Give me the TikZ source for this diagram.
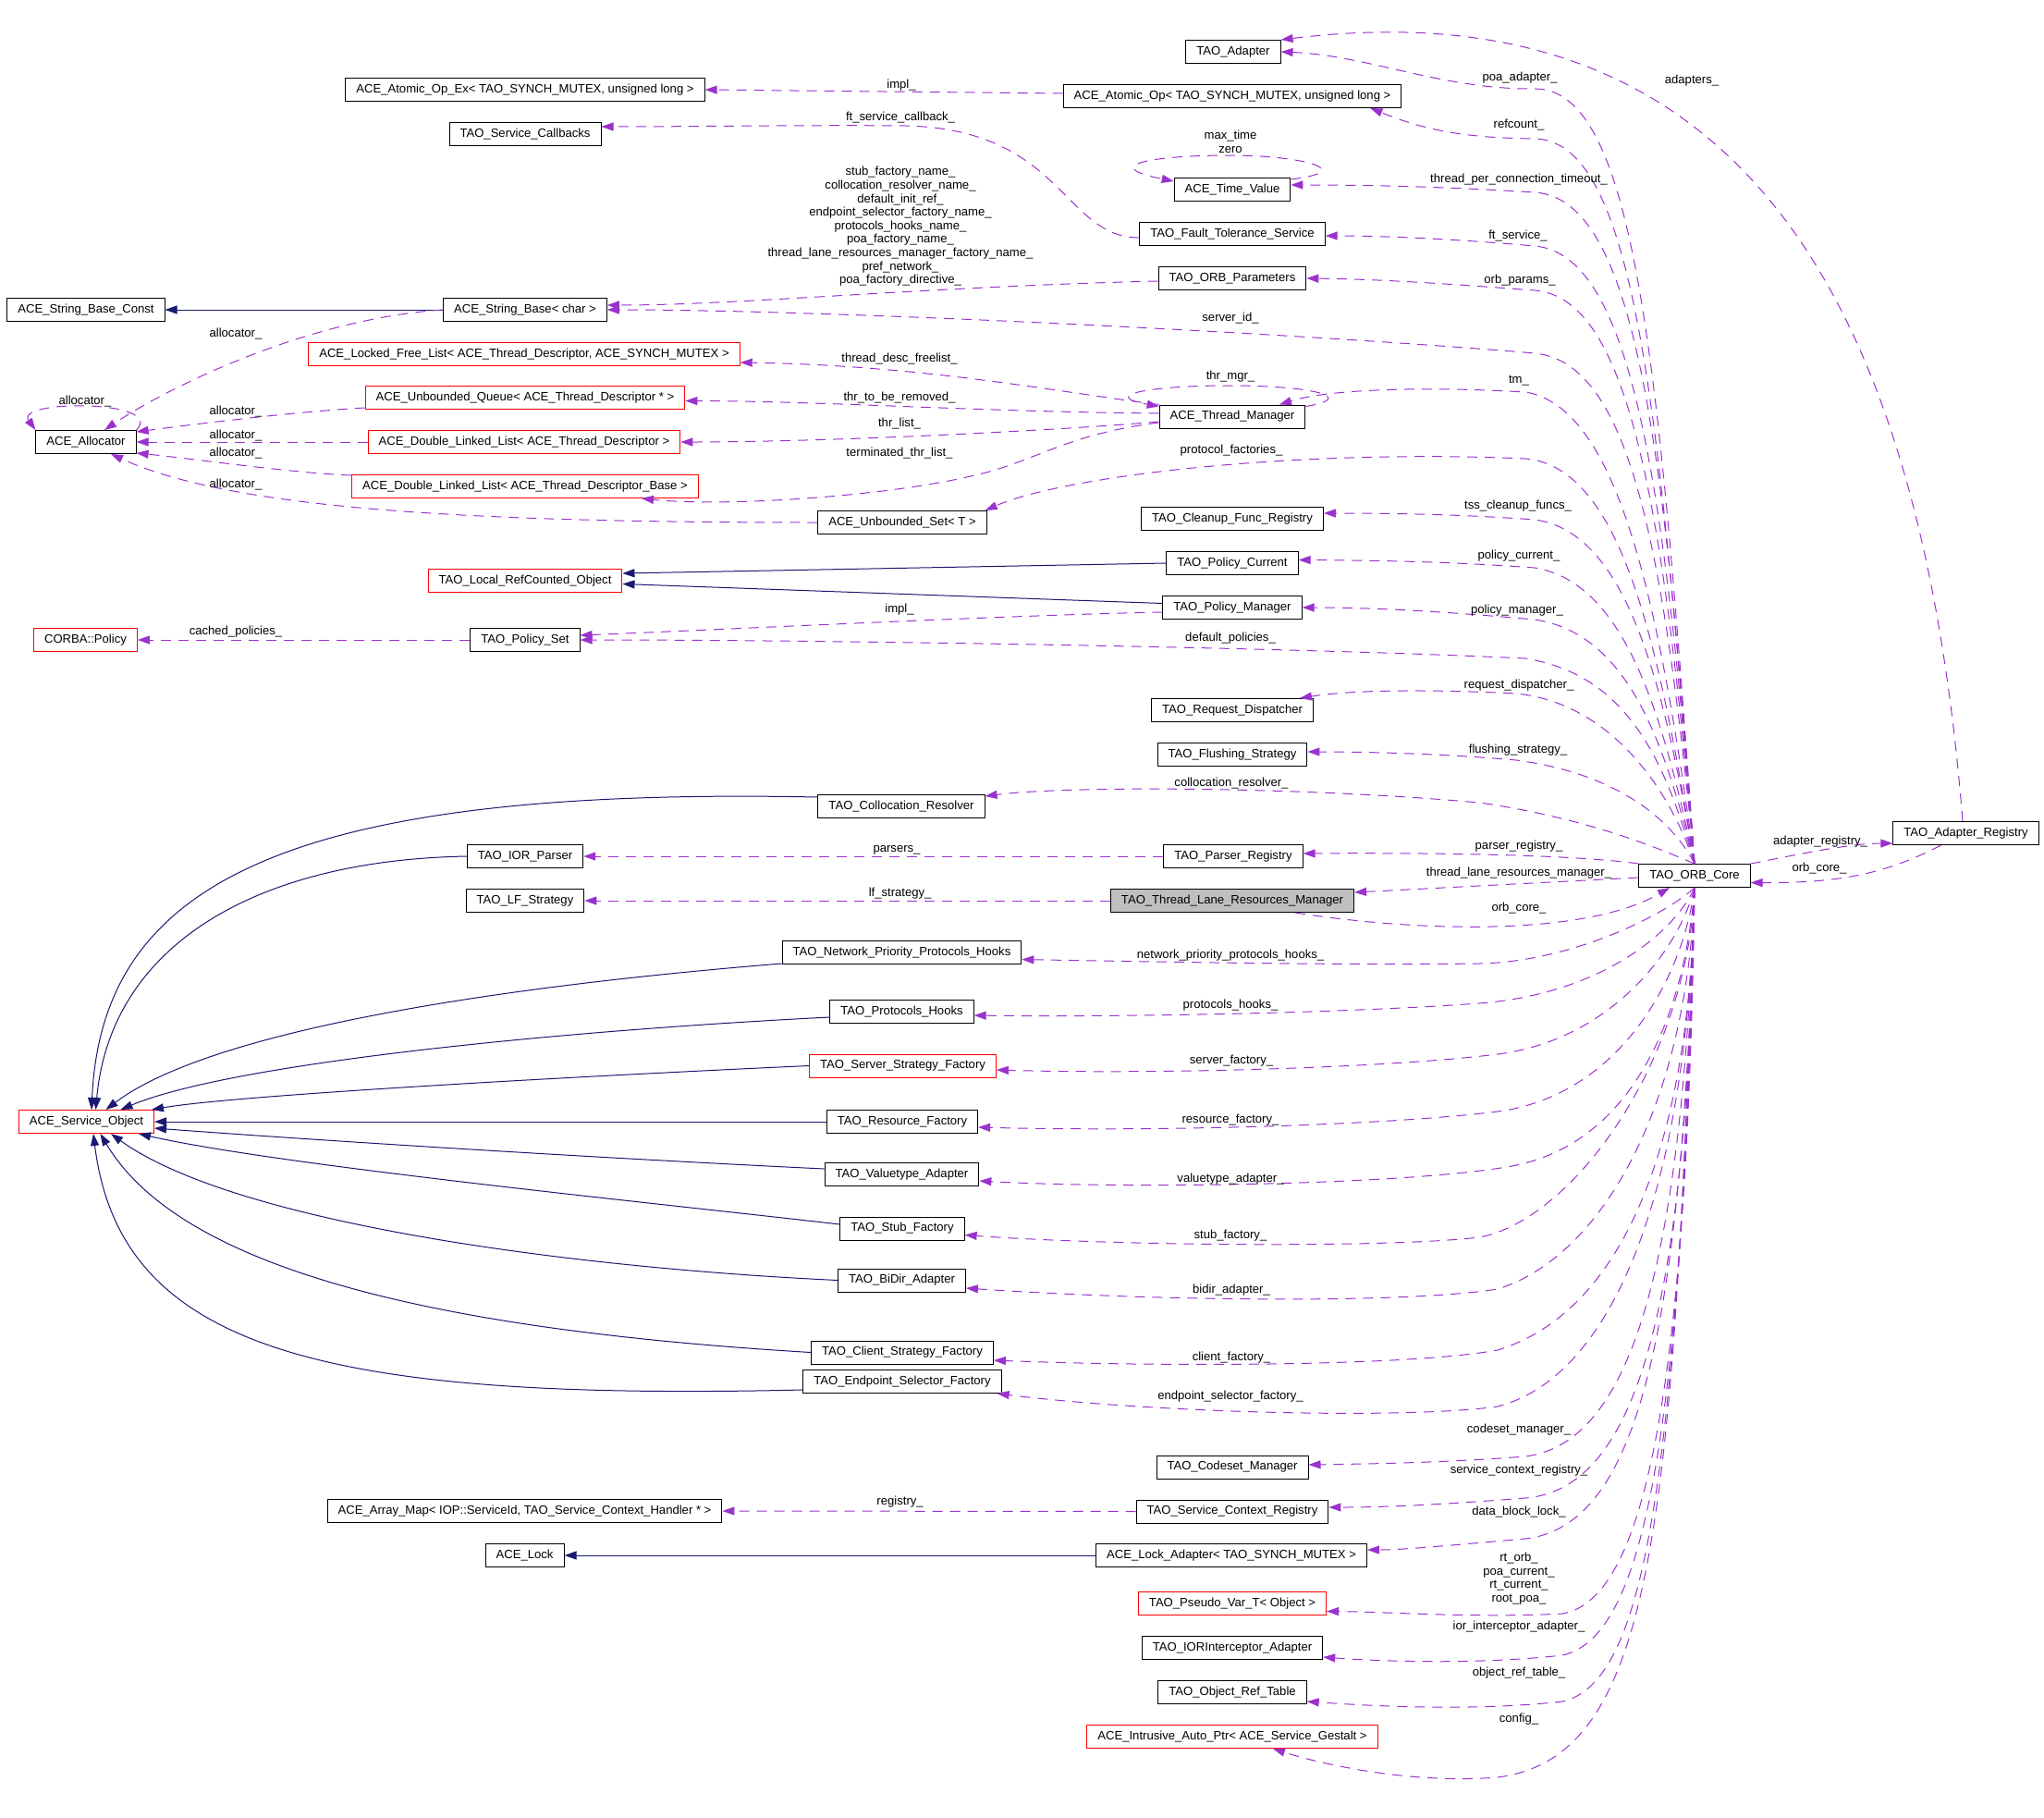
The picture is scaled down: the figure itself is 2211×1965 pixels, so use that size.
\documentclass[tikz,border=0pt]{standalone}
\usepackage{fontspec}
\setmainfont{Liberation Sans}
\usetikzlibrary{arrows.meta}
\definecolor{depline}{HTML}{9A32CD}
\definecolor{inhline}{HTML}{191970}
\definecolor{focusgray}{HTML}{BFBFBF}

\begin{document}
\begin{tikzpicture}[
        x=1pt, y=-1pt,
        box/.style={rectangle, draw=#1, line width=1pt, fill=white, inner xsep=11.5pt, inner ysep=0pt,
            minimum height=25pt, font=\fontsize{13.1}{14.6}\selectfont},
        box/.default=black,
        lbl/.style={inner sep=0pt, align=center, font=\fontsize{13.1}{14.6}\selectfont},
        dep/.style={draw=depline, line width=1pt, dash pattern=on 11pt off 8pt, -{Triangle[length=13pt,width=9pt]}},
        inh/.style={draw=inhline, line width=1pt, -{Triangle[length=13pt,width=9pt]}}
    ]
        \useasboundingbox (0,0) rectangle (2211,1965);

        % classes, left column
        \node[box] (sbc) at (93,335) {ACE\_String\_Base\_Const};
        \node[box] (alloc) at (93,478) {ACE\_Allocator};
        \node[box=red] (cp) at (92.5,692) {CORBA::Policy};
        \node[box=red] (aso) at (93.5,1213) {ACE\_Service\_Object};

        % classes, middle column
        \node[box] (atomicex) at (568,97) {ACE\_Atomic\_Op\_Ex< TAO\_SYNCH\_MUTEX, unsigned long >};
        \node[box] (svccb) at (568,145) {TAO\_Service\_Callbacks};
        \node[box] (sb) at (568,335) {ACE\_String\_Base< char >};
        \node[box=red] (lfl) at (567,383) {ACE\_Locked\_Free\_List< ACE\_Thread\_Descriptor, ACE\_SYNCH\_MUTEX >};
        \node[box=red] (uq) at (568,430) {ACE\_Unbounded\_Queue< ACE\_Thread\_Descriptor * >};
        \node[box=red] (dll) at (567,478) {ACE\_Double\_Linked\_List< ACE\_Thread\_Descriptor >};
        \node[box=red] (dllb) at (568,526) {ACE\_Double\_Linked\_List< ACE\_Thread\_Descriptor\_Base >};
        \node[box=red] (lrc) at (568,628) {TAO\_Local\_RefCounted\_Object};
        \node[box] (ps) at (568,692) {TAO\_Policy\_Set};
        \node[box] (ior) at (568,926) {TAO\_IOR\_Parser};
        \node[box] (lf) at (568,974) {TAO\_LF\_Strategy};
        \node[box] (am) at (567.5,1634) {ACE\_Array\_Map< IOP::ServiceId, TAO\_Service\_Context\_Handler * >};
        \node[box] (lock) at (567.6,1682) {ACE\_Lock};

        \node[box] (us) at (976,565) {ACE\_Unbounded\_Set< T >};
        \node[box] (cr) at (975,872) {TAO\_Collocation\_Resolver};
        \node[box] (npph) at (975.5,1030) {TAO\_Network\_Priority\_Protocols\_Hooks};
        \node[box] (ph) at (975.5,1094) {TAO\_Protocols\_Hooks};
        \node[box=red] (ssf) at (976.5,1152.5) {TAO\_Server\_Strategy\_Factory};
        \node[box] (rf) at (976,1213) {TAO\_Resource\_Factory};
        \node[box] (va) at (975.5,1270) {TAO\_Valuetype\_Adapter};
        \node[box] (sf) at (976,1328.5) {TAO\_Stub\_Factory};
        \node[box] (ba) at (975.5,1384.5) {TAO\_BiDir\_Adapter};
        \node[box] (csf) at (976,1462.5) {TAO\_Client\_Strategy\_Factory};
        \node[box] (esf) at (976,1494) {TAO\_Endpoint\_Selector\_Factory};

        % classes, right column
        \node[box] (adapter) at (1334,56) {TAO\_Adapter};
        \node[box] (atomic) at (1333,104) {ACE\_Atomic\_Op< TAO\_SYNCH\_MUTEX, unsigned long >};
        \node[box] (tv) at (1333,205) {ACE\_Time\_Value};
        \node[box] (ft) at (1333,253) {TAO\_Fault\_Tolerance\_Service};
        \node[box] (orbp) at (1333,301) {TAO\_ORB\_Parameters};
        \node[box] (tm) at (1333,450.5) {ACE\_Thread\_Manager};
        \node[box] (cfr) at (1333,561) {TAO\_Cleanup\_Func\_Registry};
        \node[box] (pc) at (1333,609) {TAO\_Policy\_Current};
        \node[box] (pm) at (1333,657) {TAO\_Policy\_Manager};
        \node[box] (rd) at (1333,768) {TAO\_Request\_Dispatcher};
        \node[box] (fs) at (1333,816) {TAO\_Flushing\_Strategy};
        \node[box] (pr) at (1334,926) {TAO\_Parser\_Registry};
        \node[box, fill=focusgray] (tlrm) at (1333,974) {TAO\_Thread\_Lane\_Resources\_Manager};
        \node[box] (cm) at (1333,1586.5) {TAO\_Codeset\_Manager};
        \node[box] (scr) at (1333,1634.5) {TAO\_Service\_Context\_Registry};
        \node[box] (la) at (1332,1682) {ACE\_Lock\_Adapter< TAO\_SYNCH\_MUTEX >};
        \node[box=red] (pv) at (1333,1734) {TAO\_Pseudo\_Var\_T< Object >};
        \node[box] (ia) at (1333,1782) {TAO\_IORInterceptor\_Adapter};
        \node[box] (ort) at (1333,1830) {TAO\_Object\_Ref\_Table};
        \node[box=red] (iap) at (1333,1878) {ACE\_Intrusive\_Auto\_Ptr< ACE\_Service\_Gestalt >};

        \node[box] (orb) at (1833,947) {TAO\_ORB\_Core};
        \node[box] (ar) at (2126.5,901) {TAO\_Adapter\_Registry};

        % inheritance
        \draw[inh] (sb.west) -- (sbc.east);
        \draw[inh] (pc.west) -- ([yshift=8pt]lrc.east);
        \draw[inh] ([yshift=4.5pt]pm.west) -- ([yshift=-3.5pt]lrc.east);
        \draw[inh] (la.west) -- (lock.east);
        \draw[inh] ([yshift=10pt]cr.west) .. controls (300,850) and (110,960) .. ([xshift=5.5pt]aso.north);
        \draw[inh] (ior.west) .. controls (280,930) and (120,1020) .. ([xshift=10pt]aso.north);
        \draw[inh] ([yshift=-12pt]npph.west) .. controls (500,1070) and (220,1120) .. ([xshift=21pt]aso.north);
        \draw[inh] ([yshift=-6pt]ph.west) .. controls (600,1115) and (250,1150) .. ([xshift=37pt]aso.north);
        \draw[inh] (ssf.west) .. controls (600,1165) and (250,1185) .. ([xshift=-3pt]aso.north east);
        \draw[inh] (rf.west) -- (aso.east);
        \draw[inh] ([yshift=6pt]va.west) .. controls (600,1250) and (300,1230) .. ([yshift=-7pt]aso.east);
        \draw[inh] ([yshift=4.5pt]sf.west) .. controls (700,1300) and (300,1260) .. ([xshift=-17pt]aso.south east);
        \draw[inh] (ba.west) .. controls (600,1370) and (250,1320) .. ([xshift=26.5pt]aso.south);
        \draw[inh] (csf.west) .. controls (500,1440) and (200,1380) .. ([xshift=15pt]aso.south);
        \draw[inh] ([yshift=-9pt]esf.west) .. controls (350,1515) and (130,1460) .. ([xshift=7.5pt]aso.south);

        % members, left part
        \draw[dep] ([yshift=3pt]atomic.west) -- (atomicex.east);
        \node[lbl] (l_impl) at (975,92) {impl\_};
        \draw[dep] ([yshift=-4pt]ft.west) .. controls (1150,257) and (1150,140) .. (980,136)
            .. controls (880,135) and (750,137) .. ([yshift=8pt]svccb.east);
        \node[lbl] (l_ftcb) at (974,127) {ft\_service\_callback\_};
        \draw[dep] ([yshift=-3pt]orbp.west) .. controls (1000,310) and (800,330) .. ([yshift=5pt]sb.east);
        \node[lbl] (l_names) at (974,245) {stub\_factory\_name\_\\collocation\_resolver\_name\_\\default\_init\_ref\_\\
            endpoint\_selector\_factory\_name\_\\protocols\_hooks\_name\_\\poa\_factory\_name\_\\
            thread\_lane\_resources\_manager\_factory\_name\_\\pref\_network\_\\poa\_factory\_directive\_};
        \draw[dep] ([yshift=-2pt]tv.north east) .. controls (1470,185) and (1410,168) .. (1330,168)
            .. controls (1240,168) and (1190,180) .. ([yshift=-4pt]tv.north west);
        \node[lbl] (l_tv) at (1331,153.6) {max\_time\\zero};
        \draw[dep] (tm.north west) .. controls (1150,425) and (1000,395) .. ([yshift=-9pt]lfl.east);
        \node[lbl] (l_fl) at (973,388) {thread\_desc\_freelist\_};
        \draw[dep] ([yshift=-2pt]tm.north east) .. controls (1470,430) and (1420,417) .. (1330,417)
            .. controls (1240,417) and (1190,428) .. ([yshift=-2pt]tm.north west);
        \node[lbl] (l_thrmgr) at (1331,406.7) {thr\_mgr\_};
        \draw[dep] ([yshift=3.5pt]tm.west) .. controls (1050,445) and (900,434) .. ([yshift=-3.5pt]uq.east);
        \node[lbl] (l_rem) at (973,430) {thr\_to\_be\_removed\_};
        \draw[dep] ([yshift=-5.5pt]tm.west) .. controls (1150,465) and (900,478) .. (dll.east);
        \node[lbl] (l_thrl) at (973,458.5) {thr\_list\_};
        \draw[dep] ([yshift=-6.5pt]tm.west) .. controls (1150,470) and (1120,500) .. (1050,515)
            .. controls (950,538) and (780,548) .. ([xshift=126pt]dllb.south);
        \node[lbl] (l_term) at (973,490.5) {terminated\_thr\_list\_};

        \draw[dep] (sb.west) .. controls (330,345) and (180,420) .. ([xshift=20pt]alloc.north);
        \node[lbl] (l_al1) at (255,361) {allocator\_};
        \draw[dep] (alloc.north east) .. controls (180,432) and (15,432) .. (alloc.north west);
        \node[lbl] (l_al2) at (92,434.5) {allocator\_};
        \draw[dep] ([yshift=-11pt]uq.west) .. controls (320,445) and (200,460) .. ([yshift=-2pt]alloc.north east);
        \node[lbl] (l_al3) at (255,444.6) {allocator\_};
        \draw[dep] (dll.west) -- (alloc.east);
        \node[lbl] (l_al4) at (255,470.7) {allocator\_};
        \draw[dep] ([yshift=12pt]dllb.west) .. controls (320,512) and (200,495) .. ([yshift=1pt]alloc.south east);
        \node[lbl] (l_al5) at (255,490.5) {allocator\_};
        \draw[dep] (us.west) .. controls (500,565) and (250,550) .. ([xshift=27pt]alloc.south);
        \node[lbl] (l_al6) at (255,523.7) {allocator\_};

        \draw[dep] ([yshift=-5pt]pm.west) .. controls (1100,665) and (800,680) .. ([yshift=5pt]ps.east);
        \node[lbl] (l_impl2) at (973,659) {impl\_};
        \draw[dep] (ps.west) -- (cp.east);
        \node[lbl] (l_cached) at (255,683.6) {cached\_policies\_};
        \draw[dep] (pr.west) -- (ior.east);
        \node[lbl] (l_parsers) at (970,919) {parsers\_};
        \draw[dep] (tlrm.west) -- (lf.east);
        \node[lbl] (l_lf) at (973.6,966.5) {lf\_strategy\_};
        \draw[dep] (scr.west) -- (am.east);
        \node[lbl] (l_reg) at (973.6,1624) {registry\_};

        % members of TAO_ORB_Core, upwards
        \draw[dep] ([xshift=-3.5pt]ar.north) .. controls (2080,350) and (1900,-20) .. (adapter.north east);
        \node[lbl] (l_adapters) at (1830,87.6) {adapters\_};
        \draw[dep] (orb.north) .. controls (1795,400) and (1770,95) .. (1660,96)
            .. controls (1560,97) and (1480,60) .. (adapter.east);
        \node[lbl] (l_poa) at (1644,84.6) {poa\_adapter\_};
        \draw[dep] (orb.north) .. controls (1795,450) and (1770,152) .. (1660,150)
            .. controls (1580,149) and (1540,140) .. ([xshift=-34pt]atomic.south east);
        \node[lbl] (l_ref) at (1643,134.7) {refcount\_};
        \draw[dep] (orb.north) .. controls (1800,480) and (1770,215) .. (1660,208)
            .. controls (1580,203) and (1500,200) .. ([yshift=5pt]tv.east);
        \node[lbl] (l_tpct) at (1643,194.5) {thread\_per\_connection\_timeout\_};
        \draw[dep] (orb.north) .. controls (1800,520) and (1765,275) .. (1660,266)
            .. controls (1580,259) and (1500,255) .. ([yshift=-2pt]ft.east);
        \node[lbl] (l_ft) at (1642,254.7) {ft\_service\_};
        \draw[dep] (orb.north) .. controls (1800,560) and (1765,322) .. (1660,314)
            .. controls (1580,308) and (1500,302) .. (orbp.east);
        \node[lbl] (l_orbp) at (1644,302.7) {orb\_params\_};
        \draw[dep] (orb.north) .. controls (1800,600) and (1765,392) .. (1660,382)
            .. controls (1400,360) and (900,335) .. (sb.east);
        \node[lbl] (l_sid) at (1331,344.4) {server\_id\_};
        \draw[dep] (orb.north) .. controls (1795,650) and (1750,440) .. (1650,424)
            .. controls (1550,418) and (1440,420) .. ([xshift=51pt]tm.north);
        \node[lbl] (l_tm) at (1643,411.7) {tm\_};
        \draw[dep] (orb.north) .. controls (1795,700) and (1755,505) .. (1650,496)
            .. controls (1400,485) and (1150,515) .. ([xshift=-2pt]us.north east);
        \node[lbl] (l_pf) at (1332,486.7) {protocol\_factories\_};
        \draw[dep] (orb.north) .. controls (1800,740) and (1760,575) .. (1660,562)
            .. controls (1580,556) and (1500,555) .. ([yshift=6pt]cfr.east);
        \node[lbl] (l_tss) at (1642,547) {tss\_cleanup\_funcs\_};
        \draw[dep] (orb.north) .. controls (1800,780) and (1760,630) .. (1660,614)
            .. controls (1580,608) and (1500,606) .. ([yshift=3.5pt]pc.east);
        \node[lbl] (l_pc) at (1643,600.8) {policy\_current\_};
        \draw[dep] (orb.north) .. controls (1800,800) and (1760,685) .. (1660,670)
            .. controls (1580,663) and (1500,657) .. (pm.east);
        \node[lbl] (l_pm) at (1641,660) {policy\_manager\_};
        \draw[dep] (orb.north) .. controls (1800,820) and (1760,730) .. (1650,712)
            .. controls (1400,700) and (900,692) .. (ps.east);
        \node[lbl] (l_dp) at (1331,690) {default\_policies\_};
        \draw[dep] (orb.north) .. controls (1805,850) and (1740,760) .. (1640,750)
            .. controls (1560,746) and (1470,745) .. ([xshift=-15pt]rd.north east);
        \node[lbl] (l_rd) at (1643,741) {request\_dispatcher\_};
        \draw[dep] (orb.north) .. controls (1805,880) and (1740,835) .. (1640,822)
            .. controls (1560,815) and (1480,813) .. ([yshift=3pt]fs.east);
        \node[lbl] (l_fs) at (1642,811.6) {flushing\_strategy\_};
        \draw[dep] (orb.north) .. controls (1800,920) and (1720,885) .. (1600,868)
            .. controls (1400,850) and (1150,850) .. ([yshift=-2pt]cr.north east);
        \node[lbl] (l_cr) at (1332,847) {collocation\_resolver\_};
        \draw[dep] (orb.north west) .. controls (1700,924) and (1550,922) .. ([yshift=3pt]pr.east);
        \node[lbl] (l_pr) at (1643,915.5) {parser\_registry\_};
        \draw[dep] ([yshift=-2pt]orb.west) -- ([yshift=9pt]tlrm.east);
        \node[lbl] (l_tlrm) at (1643,944.6) {thread\_lane\_resources\_manager\_};
        \draw[dep] ([xshift=68pt]tlrm.south) .. controls (1550,1010) and (1720,1010) .. ([xshift=-27pt]orb.south);
        \node[lbl] (l_oc1) at (1643,982.5) {orb\_core\_};

        % adapter registry
        \draw[dep] (orb.north east) .. controls (1940,925) and (2000,912) .. ([yshift=-11pt]ar.west);
        \node[lbl] (l_areg) at (1969,910.5) {adapter\_registry\_};
        \draw[dep] ([xshift=-27pt]ar.south) .. controls (2040,945) and (1990,955) .. ([yshift=-7.5pt]orb.east);
        \node[lbl] (l_oc2) at (1968,939) {orb\_core\_};

        % members of TAO_ORB_Core, downwards
        \draw[dep] (orb.south) .. controls (1800,990) and (1700,1040) .. (1600,1042)
            .. controls (1450,1044) and (1250,1040) .. ([yshift=-7.6pt]npph.east);
        \node[lbl] (l_npph) at (1331,1032.6) {network\_priority\_protocols\_hooks\_};
        \draw[dep] (orb.south) .. controls (1810,1010) and (1730,1075) .. (1600,1085)
            .. controls (1450,1096) and (1200,1100) .. ([yshift=-4pt]ph.east);
        \node[lbl] (l_ph) at (1331,1087) {protocols\_hooks\_};
        \draw[dep] (orb.south) .. controls (1815,1030) and (1740,1125) .. (1620,1140)
            .. controls (1500,1155) and (1250,1162) .. ([yshift=-4.5pt]ssf.east);
        \node[lbl] (l_ssf) at (1332,1147.5) {server\_factory\_};
        \draw[dep] (orb.south) .. controls (1820,1060) and (1750,1185) .. (1620,1202)
            .. controls (1500,1217) and (1250,1224) .. ([yshift=-6pt]rf.east);
        \node[lbl] (l_rf) at (1331,1210.7) {resource\_factory\_};
        \draw[dep] (orb.south) .. controls (1822,1100) and (1765,1240) .. (1630,1262)
            .. controls (1500,1283) and (1200,1285) .. ([yshift=-7pt]va.east);
        \node[lbl] (l_va) at (1331,1274.7) {valuetype\_adapter\_};
        \draw[dep] (orb.south) .. controls (1825,1150) and (1700,1320) .. (1600,1338)
            .. controls (1500,1350) and (1200,1347) .. ([yshift=-7pt]sf.east);
        \node[lbl] (l_sf) at (1331,1335.6) {stub\_factory\_};
        \draw[dep] (orb.south) .. controls (1825,1200) and (1730,1360) .. (1620,1394)
            .. controls (1520,1410) and (1250,1407) .. ([yshift=-8.5pt]ba.east);
        \node[lbl] (l_ba) at (1332,1395) {bidir\_adapter\_};
        \draw[dep] (orb.south) .. controls (1828,1250) and (1750,1420) .. (1620,1460)
            .. controls (1520,1478) and (1250,1478) .. ([yshift=-8.5pt]csf.east);
        \node[lbl] (l_csf) at (1332,1468) {client\_factory\_};
        \draw[dep] (orb.south) .. controls (1825,1300) and (1740,1490) .. (1620,1521)
            .. controls (1520,1535) and (1250,1528) .. ([xshift=-5pt]esf.south east);
        \node[lbl] (l_esf) at (1331,1510) {endpoint\_selector\_factory\_};
        \draw[dep] (orb.south) .. controls (1820,1350) and (1770,1560) .. (1650,1575)
            .. controls (1560,1582) and (1480,1583) .. ([yshift=2.5pt]cm.east);
        \node[lbl] (l_cm) at (1643,1546.5) {codeset\_manager\_};
        \draw[dep] (orb.south) .. controls (1825,1400) and (1775,1610) .. (1650,1620)
            .. controls (1560,1627) and (1500,1630) .. ([yshift=4.5pt]scr.east);
        \node[lbl] (l_scr) at (1643,1590.4) {service\_context\_registry\_};
        \draw[dep] (orb.south) .. controls (1820,1450) and (1770,1650) .. (1650,1664)
            .. controls (1580,1670) and (1520,1676) .. ([yshift=6pt]la.east);
        \node[lbl] (l_dbl) at (1643,1635) {data\_block\_lock\_};
        \draw[dep] (orb.south) .. controls (1825,1500) and (1780,1730) .. (1690,1745)
            .. controls (1600,1750) and (1500,1743) .. ([yshift=-8.5pt]pv.east);
        \node[lbl] (l_pv) at (1643,1707) {rt\_orb\_\\poa\_current\_\\rt\_current\_\\root\_poa\_};
        \draw[dep] (orb.south) .. controls (1820,1550) and (1780,1770) .. (1690,1790)
            .. controls (1600,1800) and (1500,1797) .. ([yshift=-10pt]ia.east);
        \node[lbl] (l_ia) at (1643,1759) {ior\_interceptor\_adapter\_};
        \draw[dep] (orb.south) .. controls (1815,1600) and (1780,1820) .. (1690,1840)
            .. controls (1600,1850) and (1500,1846) .. ([yshift=-10pt]ort.east);
        \node[lbl] (l_ort) at (1643,1809.5) {object\_ref\_table\_};
        \draw[dep] (orb.south) .. controls (1810,1650) and (1790,1900) .. (1620,1922)
            .. controls (1520,1930) and (1420,1905) .. ([xshift=44pt]iap.south);
        \node[lbl] (l_cfg) at (1643,1859) {config\_};
    \end{tikzpicture}
\end{document}
